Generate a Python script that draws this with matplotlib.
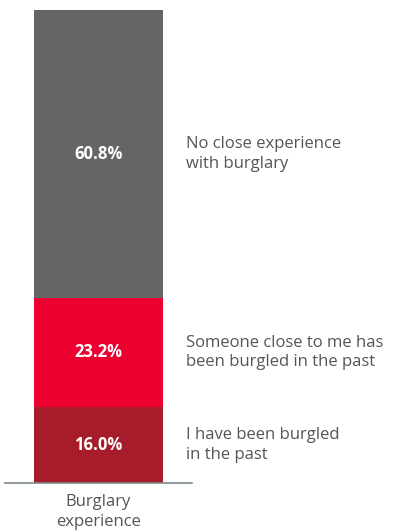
import matplotlib.pyplot as plt

plt.rcParams['font.family'] = ['Open Sans', 'DejaVu Sans']

# datos de la barra apilada (de abajo hacia arriba)
categoria = "Burglary\nexperience"
valores = [16.0, 23.2, 60.8]
etiquetas = ["I have been burgled\nin the past",
             "Someone close to me has\nbeen burgled in the past",
             "No close experience\nwith burglary"]
colores = ["#a71c2b", "#eb0030", "#646567"]

fig = plt.figure(figsize=(4.03, 5.32), dpi=100)
ax = fig.add_axes([5 / 403, 49 / 532, 187 / 403, 473 / 532])

base = 0
for v, et, c in zip(valores, etiquetas, colores):
    ax.bar(0, v, bottom=base, width=1.0, color=c, linewidth=0)
    medio = base + v / 2
    ax.text(0, medio, f"{v:.1f}%", ha="center", va="center",
            color="white", fontsize=12, fontweight="bold")
    ax.text(0.677, medio, et, ha="left", va="center", color="#555555",
            fontsize=12, linespacing=1.3, clip_on=False)
    base += v

ax.set_xlim(-0.72, 0.72)
ax.set_ylim(0, 100)
ax.set_xticks([0])
ax.set_xticklabels([categoria], color="#555555", fontsize=12, linespacing=1.3)
ax.tick_params(axis="x", length=0, pad=8)
ax.set_yticks([])
for s in ["top", "right", "left"]:
    ax.spines[s].set_visible(False)
ax.spines["bottom"].set_color("#7f8a8c")
ax.spines["bottom"].set_linewidth(1.2)

fig.savefig("out.png", dpi=100)
